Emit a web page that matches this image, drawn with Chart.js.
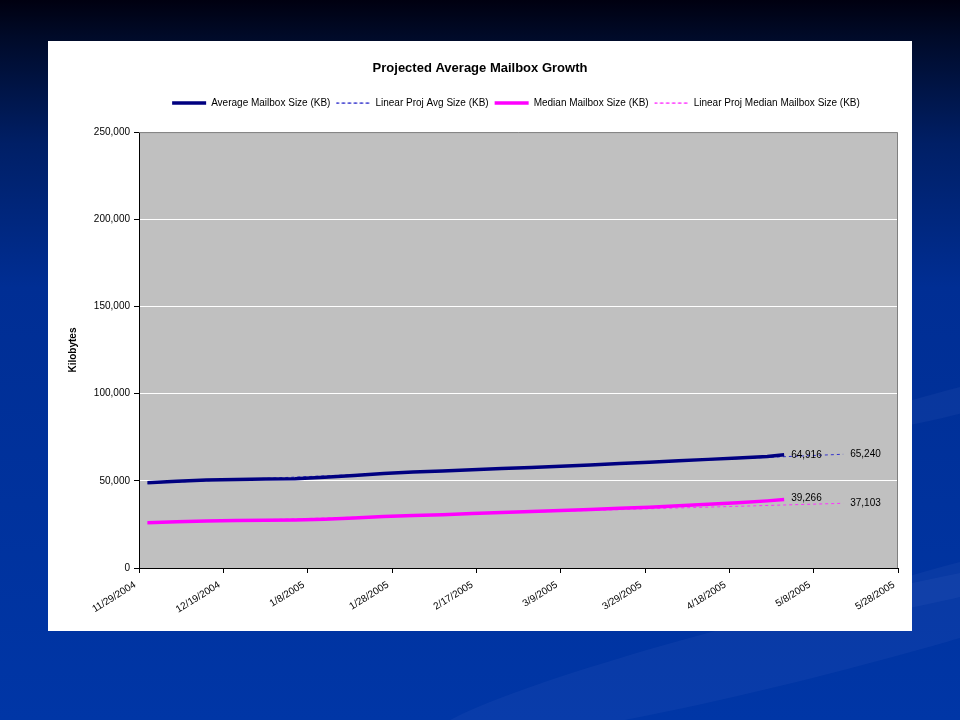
<!DOCTYPE html>
<html>
<head>
<meta charset="utf-8">
<title>Projected Average Mailbox Growth</title>
<script src="https://cdn.jsdelivr.net/npm/chart.js@4.4.1/dist/chart.umd.min.js"></script>
<style>
  body {
    margin: 0;
    width: 960px;
    height: 720px;
    overflow: hidden;
    position: relative;
    background: linear-gradient(to bottom, #000010 0%, #000a28 5%, #001f66 20%, #002e94 40%, #0036a6 100%);
  }
  .swoosh {
    position: absolute;
    border-radius: 50%;
    background: rgba(150, 175, 240, 0.06);
    transform: rotate(-14deg);
  }
  #box {
    position: absolute;
    left: 48px;
    top: 41px;
    width: 864px;
    height: 590px;
    background: #fff;
  }
</style>
</head>
<body>
<div class="swoosh" style="left:420px; top:610px; width:760px; height:70px;"></div>
<div class="swoosh" style="left:820px; top:560px; width:300px; height:34px;"></div>
<div class="swoosh" style="left:820px; top:385px; width:300px; height:26px;"></div>
<div id="box"><canvas id="chart" width="864" height="590"></canvas></div>
<script>
// data (KB)
const dates = ['12/1/2004', '12/8/2004', '12/15/2004', '12/22/2004', '12/29/2004', '1/5/2005',
  '1/12/2005', '1/19/2005', '1/26/2005', '2/2/2005', '2/9/2005', '2/16/2005', '2/23/2005',
  '3/2/2005', '3/9/2005', '3/16/2005', '3/23/2005', '3/30/2005', '4/6/2005', '4/13/2005',
  '4/20/2005', '4/27/2005', '5/1/2005'];
const avgSize = [48900, 49800, 50500, 50800, 51000, 51200, 52000, 53000, 54200, 55000, 55600,
  56300, 57000, 57700, 58400, 59100, 59900, 60700, 61500, 62300, 63100, 64000, 64916];
const medianSize = [25900, 26500, 27000, 27200, 27400, 27600, 28000, 28700, 29500, 30100, 30600,
  31200, 31800, 32400, 33000, 33600, 34200, 34900, 35700, 36500, 37400, 38500, 39266];

const projDates = ['12/1/2004', '5/15/2005'];
const projAvg = [48600, 65240];
const projMedian = [25800, 37103];

const xTickLabels = ['11/29/2004', '12/19/2004', '1/8/2005', '1/28/2005', '2/17/2005',
  '3/9/2005', '3/29/2005', '4/18/2005', '5/8/2005', '5/28/2005'];

// days since the first tick date
function dayOf(s) {
  const [m, d, y] = s.split('/').map(Number);
  return (Date.UTC(y, m - 1, d) - Date.UTC(2004, 10, 29)) / 86400000;
}
const pts = (ds, vs) => ds.map((d, i) => ({ x: dayOf(d), y: vs[i] }));
const fmt = v => v.toLocaleString('en-US');

Chart.defaults.font.family = '"Liberation Sans", Arial, sans-serif';
Chart.defaults.font.size = 10;
Chart.defaults.color = '#000';

const plotBg = {
  id: 'plotBg',
  beforeLayout(chart) {
    // extra room under the legend
    const lg = chart.legend;
    if (lg && !lg._gap) {
      const fit = lg.fit;
      lg.fit = function () { fit.call(this); this.height += 14; };
      lg._gap = true;
    }
  },
  afterLayout(chart) {
    // legend sits a bit right of centre in the original
    if (chart.legend) chart.legend.left += 72;
  },
  beforeDraw(chart) {
    const a = chart.chartArea, c = chart.ctx;
    c.save();
    c.fillStyle = '#c0c0c0';
    c.fillRect(a.left, a.top, a.right - a.left, a.bottom - a.top);
    c.restore();
  },
  beforeDatasetsDraw(chart) {
    const a = chart.chartArea, c = chart.ctx;
    c.save();
    c.strokeStyle = '#808080';
    c.lineWidth = 1;
    c.beginPath();
    c.moveTo(a.left, a.top + 0.5);
    c.lineTo(a.right - 0.5, a.top + 0.5);
    c.lineTo(a.right - 0.5, a.bottom);
    c.stroke();
    c.restore();
  }
};

const endLabels = {
  id: 'endLabels',
  afterDatasetsDraw(chart) {
    const c = chart.ctx;
    const marks = [[0, fmt(avgSize[avgSize.length - 1]), 0], [1, fmt(projAvg[1]), 0],
      [2, fmt(medianSize[medianSize.length - 1]), -1], [3, fmt(projMedian[1]), 0]];
    c.save();
    c.font = '10px "Liberation Sans", Arial, sans-serif';
    c.fillStyle = '#000';
    c.textBaseline = 'middle';
    marks.forEach(([i, txt, dy]) => {
      const els = chart.getDatasetMeta(i).data;
      const p = els[els.length - 1];
      c.fillText(txt, p.x + 7, p.y + dy);
    });
    c.restore();
  }
};

new Chart(document.getElementById('chart'), {
  type: 'line',
  data: {
    datasets: [
      { label: 'Average Mailbox Size (KB)', data: pts(dates, avgSize), borderColor: '#000080',
        backgroundColor: '#000080', borderWidth: 3.5, pointRadius: 0, order: 1 },
      { label: 'Linear Proj Avg Size (KB)', data: pts(projDates, projAvg), borderColor: '#3333cc',
        backgroundColor: 'transparent', borderWidth: 1, borderDash: [3, 3], pointRadius: 0, order: 3 },
      { label: 'Median Mailbox Size (KB)', data: pts(dates, medianSize), borderColor: '#ff00ff',
        backgroundColor: '#ff00ff', borderWidth: 3.5, pointRadius: 0, order: 2 },
      { label: 'Linear Proj Median Mailbox Size (KB)', data: pts(projDates, projMedian), borderColor: '#ff33ff',
        backgroundColor: 'transparent', borderWidth: 1, borderDash: [3, 3], pointRadius: 0, order: 4 }
    ]
  },
  options: {
    responsive: false,
    animation: false,
    layout: { padding: { left: 14, right: 14, top: 0, bottom: 0 } },
    plugins: {
      title: {
        display: true,
        text: 'Projected Average Mailbox Growth',
        font: { size: 13, weight: 'bold' },
        color: '#000',
        padding: { top: 19.5, bottom: 16 }
      },
      legend: {
        position: 'top',
        labels: {
          boxWidth: 34,
          boxHeight: 0,
          padding: 6,
          color: '#000',
          sort: (a, b) => a.datasetIndex - b.datasetIndex
        }
      },
      tooltip: { enabled: false }
    },
    scales: {
      x: {
        type: 'linear',
        min: 0,
        max: 180,
        afterFit(scale) { scale.height = 63; },
        ticks: {
          stepSize: 20,
          minRotation: 32,
          maxRotation: 32,
          padding: 6,
          labelOffset: -4,
          callback: (v, i) => xTickLabels[i]
        },
        grid: { drawOnChartArea: false, tickColor: '#000', tickLength: 5 },
        border: { color: '#000' }
      },
      y: {
        min: 0,
        max: 250000,
        afterFit(scale) { scale.width = 77; },
        ticks: { stepSize: 50000, padding: 4, callback: v => fmt(v) },
        grid: {
          color: ctx => (ctx.tick && ctx.tick.value > 0 && ctx.tick.value < 250000) ? '#ffffff' : 'transparent',
          tickColor: '#000',
          tickLength: 5
        },
        border: { color: '#000' },
        title: {
          display: true,
          text: 'Kilobytes',
          font: { size: 10, weight: 'bold' },
          color: '#000',
          padding: { top: 5, bottom: 0 }
        }
      }
    }
  },
  plugins: [plotBg, endLabels]
});
</script>
</body>
</html>
